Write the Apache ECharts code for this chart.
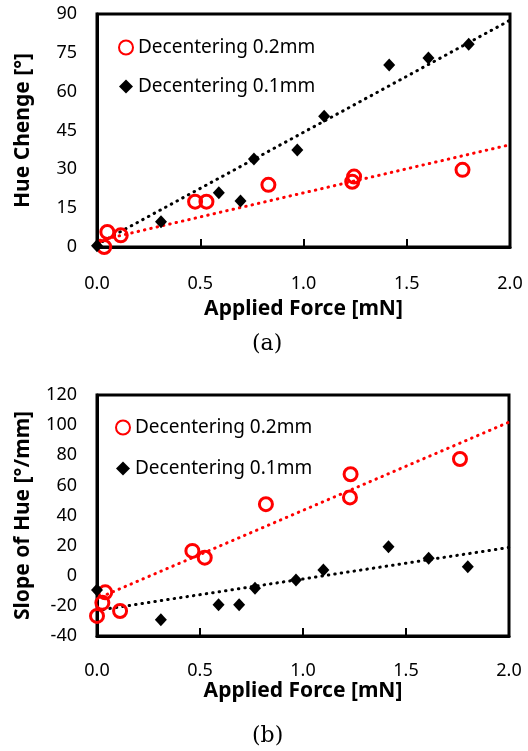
<!DOCTYPE html>
<html>
<head>
<meta charset="utf-8">
<script src="https://cdn.jsdelivr.net/npm/echarts@6/dist/echarts.min.js"></script>
<style>
  html, body { margin: 0; padding: 0; background: #fff; }
  #myChart { width: 528px; height: 751px; }
</style>
</head>
<body>
<div id="myChart"></div>
<script>
  // (a) hue change vs applied force
  let forceA02 = [0.05, 0.035, 0.115, 0.475, 0.53, 0.83, 1.245, 1.236, 1.77];
  let hueA02 = [5.8, 0, 4.5, 17.5, 17.5, 24, 27.2, 25.2, 29.8];
  let forceA01 = [0, 0.31, 0.59, 0.695, 0.76, 0.97, 1.1, 1.415, 1.605, 1.8];
  let hueA01 = [0.5, 9.8, 21, 17.8, 34, 37.5, 50.5, 70.3, 73, 78.3];
  let trendA02 = [[0.015, 2.6], [2.0, 39.5]];
  let trendA01 = [[0.0, 1.0], [2.0, 87.6]];

  // (b) slope of hue vs applied force
  let forceB02 = [0, 0.026, 0.04, 0.112, 0.463, 0.523, 0.82, 1.231, 1.228, 1.762];
  let slopeB02 = [-26.7, -18, -11, -23.4, 16.5, 12, 47.5, 67.4, 52, 77.5];
  let forceB01 = [0, 0.31, 0.59, 0.69, 0.767, 0.966, 1.099, 1.415, 1.61, 1.8];
  let slopeB01 = [-9.5, -29.2, -19.3, -19.3, -8.3, -2.8, 3.8, 19.3, 11.6, 6];
  let trendB02 = [[0.02, -14], [2.0, 102]];
  let trendB01 = [[0.0, -23], [2.0, 18.8]];

  let xTicks = ['0.0', '0.5', '1.0', '1.5', '2.0'];
  let names = ['Decentering 0.2mm', 'Decentering 0.1mm'];

  function pairs(xs, ys) {
    return xs.map((x, i) => [x, ys[i]]);
  }

  let font = 'Noto Sans';
  let red = '#ff0000';

  function xAxisOf(gridIndex, gap, margin) {
    return {
      type: 'value', gridIndex: gridIndex, min: 0, max: 2, interval: 0.5,
      name: 'Applied Force [mN]', nameLocation: 'middle', nameGap: gap,
      nameTextStyle: { fontFamily: font, fontWeight: 'bold', fontSize: 21, color: '#000' },
      axisLine: { onZero: false, lineStyle: { color: '#000', width: 3 } },
      axisTick: { inside: true, length: 8, lineStyle: { color: '#000', width: 2 } },
      axisLabel: {
        fontFamily: font, fontSize: 18, color: '#000', margin: margin,
        formatter: v => xTicks[Math.round(v * 2)]
      },
      splitLine: { show: false }
    };
  }

  function yAxisOf(gridIndex, name, min, max, step) {
    return {
      type: 'value', gridIndex: gridIndex, min: min, max: max, interval: step,
      name: name, nameLocation: 'middle', nameGap: 63,
      nameTextStyle: { fontFamily: font, fontWeight: 'bold', fontSize: 21, color: '#000' },
      axisLine: { onZero: false, lineStyle: { color: '#000', width: 3 } },
      axisTick: { show: false },
      axisLabel: { fontFamily: font, fontSize: 18, color: '#000', margin: 20 },
      splitLine: { show: false }
    };
  }

  function circles(name, data, xi) {
    return {
      name: name, type: 'scatter', xAxisIndex: xi, yAxisIndex: xi, z: 5,
      symbol: 'circle', symbolSize: 13,
      itemStyle: { color: 'rgba(255,255,255,0)', borderColor: red, borderWidth: 3, opacity: 1 },
      data: data
    };
  }

  function diamonds(name, data, xi) {
    return {
      name: name, type: 'scatter', xAxisIndex: xi, yAxisIndex: xi, z: 5,
      symbol: 'diamond', symbolSize: [12, 13],
      itemStyle: { color: '#000', opacity: 1 },
      data: data
    };
  }

  function trend(name, data, xi, color) {
    return {
      name: name, type: 'line', xAxisIndex: xi, yAxisIndex: xi, z: 3,
      showSymbol: false, silent: true,
      lineStyle: { color: color, width: 3, type: [0.5, 6], cap: 'round' },
      data: data
    };
  }

  function legendOf(top, left, gap) {
    return {
      data: names, orient: 'vertical', left: left, top: top,
      itemWidth: 14, itemHeight: 14, itemGap: gap,
      textStyle: { fontFamily: font, fontSize: 19, color: '#000' }
    };
  }

  let option = {
    animation: false,
    legend: [legendOf(33, 113, 20), legendOf(413, 110, 22)],
    grid: [
      { left: 97, top: 14, width: 413, height: 233, show: true, borderColor: '#000', borderWidth: 3 },
      { left: 97, top: 395, width: 412, height: 241, show: true, borderColor: '#000', borderWidth: 3 }
    ],
    xAxis: [xAxisOf(0, 52, 28), xAxisOf(1, 42, 26)],
    yAxis: [
      yAxisOf(0, 'Hue Chenge [°]', 0, 90, 15),
      yAxisOf(1, 'Slope of Hue [°/mm]', -40, 120, 20)
    ],
    graphic: [
      { type: 'text', left: 252, top: 333, style: { text: '(a)', font: '22px "DejaVu Serif"', fill: '#000' } },
      { type: 'text', left: 252, top: 725, style: { text: '(b)', font: '22px "DejaVu Serif"', fill: '#000' } }
    ],
    series: [
      trend('trendA02', trendA02, 0, red),
      trend('trendA01', trendA01, 0, '#000'),
      circles(names[0], pairs(forceA02, hueA02), 0),
      diamonds(names[1], pairs(forceA01, hueA01), 0),
      trend('trendB02', trendB02, 1, red),
      trend('trendB01', trendB01, 1, '#000'),
      circles(names[0], pairs(forceB02, slopeB02), 1),
      diamonds(names[1], pairs(forceB01, slopeB01), 1)
    ]
  };

  let myChart = echarts.init(document.getElementById('myChart'));
  myChart.setOption(option);
</script>
</body>
</html>
